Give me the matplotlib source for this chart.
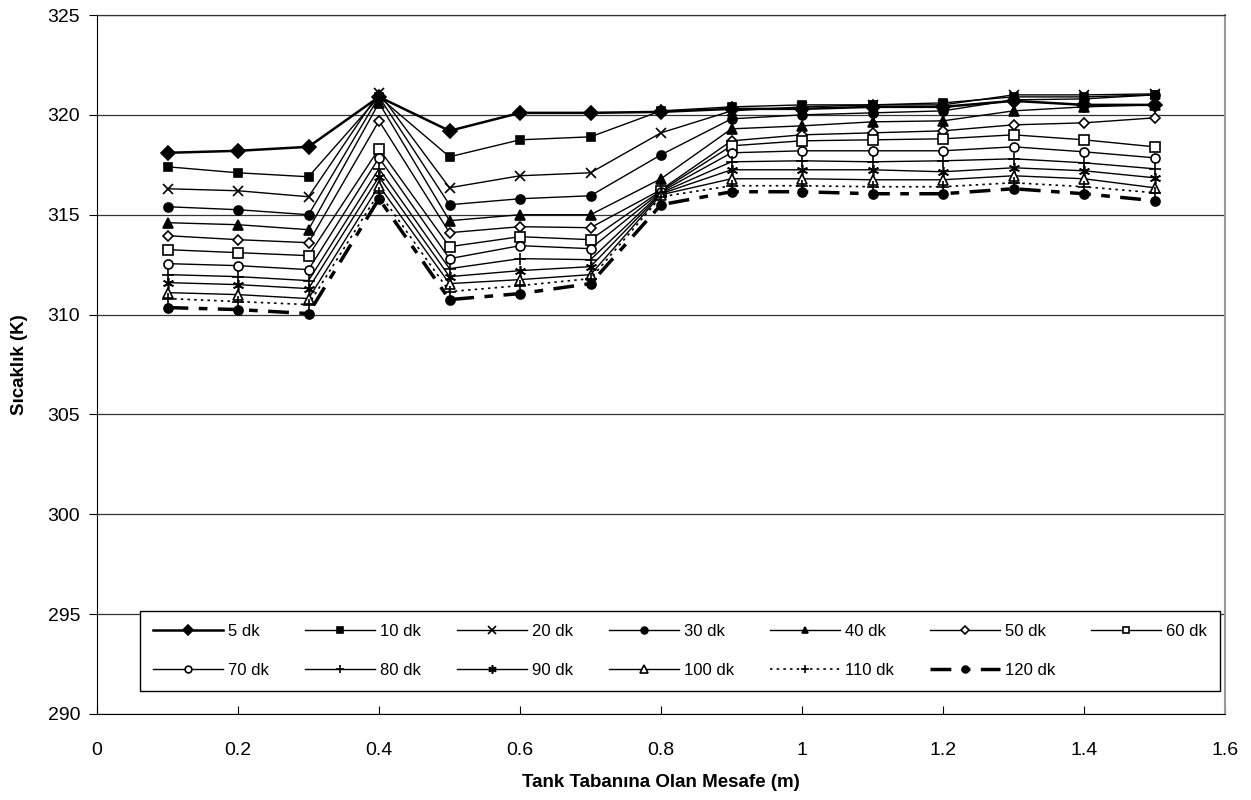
import numpy as np
import matplotlib.pyplot as plt

plt.rcParams['font.family'] = ['Liberation Sans', 'DejaVu Sans']

x = [0.1, 0.2, 0.3, 0.4, 0.5, 0.6, 0.7, 0.8, 0.9, 1.0, 1.1, 1.2, 1.3, 1.4, 1.5]

t5 = [318.1, 318.2, 318.4, 320.9, 319.2, 320.1, 320.1, 320.15, 320.3, 320.3, 320.4, 320.4, 320.7, 320.5, 320.5]
t10 = [317.4, 317.1, 316.9, 320.9, 317.9, 318.75, 318.9, 320.2, 320.4, 320.5, 320.5, 320.6, 320.9, 320.9, 321.0]
t20 = [316.3, 316.2, 315.9, 321.1, 316.35, 316.95, 317.1, 319.1, 320.2, 320.4, 320.5, 320.5, 321.0, 321.0, 321.05]
t30 = [315.4, 315.25, 315.0, 320.9, 315.5, 315.8, 315.95, 318.0, 319.8, 320.0, 320.1, 320.2, 320.75, 320.8, 321.0]
t40 = [314.6, 314.5, 314.25, 320.6, 314.7, 315.0, 315.0, 316.8, 319.3, 319.45, 319.65, 319.7, 320.2, 320.4, 320.5]
t50 = [313.95, 313.75, 313.6, 319.7, 314.1, 314.4, 314.35, 316.25, 318.7, 319.0, 319.1, 319.2, 319.5, 319.6, 319.85]
t60 = [313.25, 313.1, 312.95, 318.3, 313.4, 313.9, 313.75, 316.2, 318.45, 318.7, 318.75, 318.8, 319.0, 318.75, 318.4]
t70 = [312.55, 312.45, 312.25, 317.85, 312.8, 313.45, 313.3, 316.15, 318.1, 318.2, 318.2, 318.2, 318.4, 318.15, 317.85]
t80 = [312.0, 311.9, 311.7, 317.3, 312.3, 312.8, 312.75, 316.1, 317.65, 317.7, 317.65, 317.7, 317.8, 317.6, 317.3]
t90 = [311.6, 311.5, 311.3, 316.9, 311.9, 312.2, 312.4, 316.05, 317.25, 317.25, 317.25, 317.15, 317.35, 317.2, 316.85]
t100 = [311.1, 311.0, 310.8, 316.45, 311.55, 311.75, 312.0, 316.0, 316.8, 316.8, 316.75, 316.75, 316.95, 316.8, 316.35]
t110 = [310.8, 310.65, 310.5, 316.1, 311.15, 311.45, 311.8, 315.9, 316.45, 316.45, 316.4, 316.4, 316.6, 316.4, 316.1]
t120 = [310.35, 310.25, 310.05, 315.8, 310.75, 311.05, 311.55, 315.5, 316.15, 316.15, 316.05, 316.05, 316.3, 316.05, 315.7]

labels = ['5 dk', '10 dk', '20 dk', '30 dk', '40 dk', '50 dk', '60 dk',
          '70 dk', '80 dk', '90 dk', '100 dk', '110 dk', '120 dk']
series = [t5, t10, t20, t30, t40, t50, t60, t70, t80, t90, t100, t110, t120]

# marker, fill, line width, line style, marker size
styles = [
    ('D', 'k', 1.8, '-', 7),
    ('s', 'k', 1.0, '-', 6),
    ('x', 'k', 1.0, '-', 7),
    ('o', 'k', 1.0, '-', 6.5),
    ('^', 'k', 1.0, '-', 6.5),
    ('D', 'w', 1.0, '-', 5.5),
    ('s', 'w', 1.0, '-', 6.5),
    ('o', 'w', 1.0, '-', 6.5),
    ('+', 'k', 1.0, '-', 8),
    ((6, 2, 0), 'k', 1.0, '-', 8),
    ('^', 'w', 1.0, '-', 7),
    ('+', 'k', 1.2, (0, (1.5, 2.5)), 8),
    ('o', 'k', 2.5, (0, (6, 3, 2.5, 3)), 6.5),
]

fig = plt.figure(figsize=(12.51, 8.0), dpi=100)
ax = fig.add_axes([97 / 1251, 1 - 714 / 800, 1128 / 1251, 699 / 800])

handles = []
for y, lab, (m, fc, lw, ls, ms) in zip(series, labels, styles):
    h, = ax.plot(x, y, color='k', linestyle=ls, linewidth=lw, marker=m,
                 markerfacecolor=fc, markeredgecolor='k', markersize=ms,
                 markeredgewidth=1.2, label=lab)
    handles.append(h)

ax.set_xlim(0, 1.6)
ax.set_ylim(290, 325)
ax.set_xticks(np.arange(0, 1.61, 0.2))
ax.set_xticklabels(['0', '0.2', '0.4', '0.6', '0.8', '1', '1.2', '1.4', '1.6'])
ax.set_yticks(range(290, 326, 5))
ax.yaxis.grid(True, color='#333333', linewidth=0.9)
ax.set_axisbelow(True)
ax.tick_params(axis='y', direction='out', length=6, labelsize=14, pad=6)
ax.tick_params(axis='x', direction='in', length=6, labelsize=14, pad=20)
for s in ['left', 'bottom']:
    ax.spines[s].set_color('k')
ax.spines['top'].set_color('#333333')
ax.spines['top'].set_linewidth(0.9)
ax.spines['right'].set_color('#999999')
ax.spines['right'].set_linewidth(1.5)

ax.set_xlabel('Tank Tabanına Olan Mesafe (m)', fontsize=13.5, fontweight='bold', labelpad=11)
ax.set_ylabel('Sıcaklık (K)', fontsize=13.5, fontweight='bold', labelpad=14)

# legend is filled column by column, so interleave the two rows
order = [0, 7, 1, 8, 2, 9, 3, 10, 4, 11, 5, 12, 6]
leg = ax.legend([handles[i] for i in order], [labels[i] for i in order],
                ncol=7, loc='lower left', bbox_to_anchor=(0.038, 0.033, 0.958, 0.117),
                mode='expand', fontsize=12, frameon=True, fancybox=False,
                handlelength=4.2, handletextpad=0.3, markerscale=0.75,
                borderpad=0.8, labelspacing=1.4, columnspacing=1.0,
                borderaxespad=0)
leg.get_frame().set_edgecolor('k')
leg.get_frame().set_linewidth(1.0)
leg.get_frame().set_alpha(1)

fig.savefig('out.png', dpi=100)
plt.close(fig)
